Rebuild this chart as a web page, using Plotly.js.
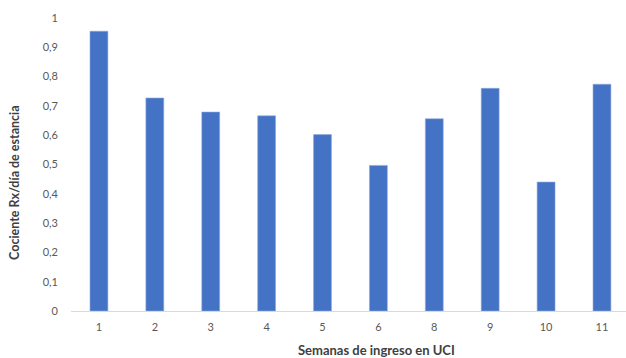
<!DOCTYPE html>
<html>
<head>
<meta charset="utf-8">
<script src="https://cdn.plot.ly/plotly-3.0.1.min.js"></script>
<style>html,body{margin:0;padding:0;background:#fff;}#chart{width:626px;height:358px;}</style>
</head>
<body>
<div id="chart"></div>
<script>
const weeks = ["1", "2", "3", "4", "5", "6", "8", "9", "10", "11"];
const ratio = [0.955, 0.727, 0.679, 0.666, 0.602, 0.497, 0.656, 0.760, 0.440, 0.774];
const xTitle = "Semanas de ingreso en UCI";
const yTitle = "Cociente Rx/día de estancia";

const font = "Lato, 'Open Sans', 'Liberation Sans', sans-serif";

Plotly.newPlot("chart", [{
  type: "bar",
  x: weeks,
  y: ratio,
  marker: {color: "#4472C4", line: {color: "#8fa9dc", width: 0.6}},
  hoverinfo: "none"
}], {
  width: 626,
  height: 358,
  margin: {l: 71, r: 0, t: 18, b: 47},
  paper_bgcolor: "#ffffff",
  plot_bgcolor: "#ffffff",
  separators: ",.",
  bargap: 0.68,
  showlegend: false,
  font: {family: font, size: 11, color: "#595959"},
  xaxis: {
    type: "category",
    range: [-0.5, 9.43],
    showgrid: false,
    zeroline: false,
    showline: true,
    linecolor: "#d9d9d9",
    linewidth: 1,
    ticks: "",
    ticklabelstandoff: 6,
    tickfont: {family: font, size: 11, color: "#595959"}
  },
  yaxis: {
    range: [0, 1],
    dtick: 0.1,
    tick0: 0,
    showgrid: false,
    zeroline: false,
    showline: false,
    ticks: "",
    ticklabelstandoff: 12,
    tickfont: {family: font, size: 11, color: "#595959"}
  },
  annotations: [
    {text: "<b>" + yTitle + "</b>", xref: "paper", yref: "paper", x: -0.101, y: 0.437,
     xanchor: "center", yanchor: "middle", textangle: -90, showarrow: false,
     font: {family: font, size: 12.5, color: "#404040"}},
    {text: "<b>" + xTitle + "</b>", xref: "paper", yref: "paper", x: 0.55, y: -0.133,
     xanchor: "center", yanchor: "middle", showarrow: false,
     font: {family: font, size: 13, color: "#404040"}}
  ]
}, {staticPlot: true});
</script>
</body>
</html>
